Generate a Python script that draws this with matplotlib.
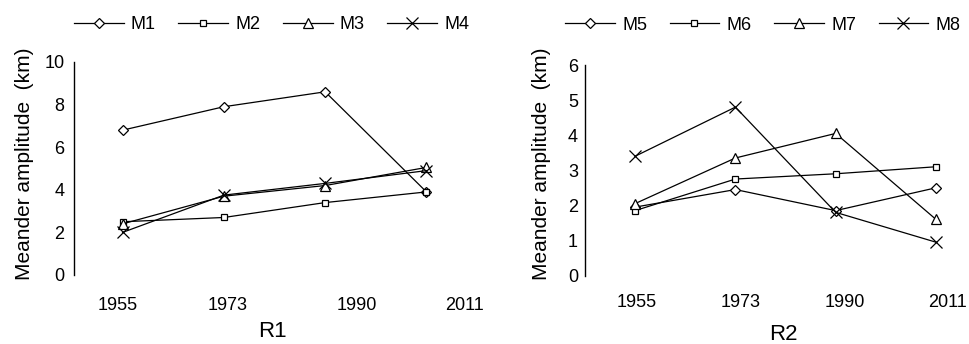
import matplotlib
matplotlib.use("Agg")
import matplotlib.pyplot as plt

plt.rcParams['font.family'] = ['Liberation Sans', 'DejaVu Sans']

# dati
years = ['1955', '1973', '1990', '2011']
points = [0, 1, 2, 3]

r1_names = ['M1', 'M2', 'M3', 'M4']
m1 = [6.8, 7.9, 8.6, 3.9]
m2 = [2.5, 2.7, 3.4, 3.9]
m3 = [2.4, 3.7, 4.2, 5.05]
m4 = [2.0, 3.75, 4.3, 4.9]

r2_names = ['M5', 'M6', 'M7', 'M8']
m5 = [1.95, 2.45, 1.85, 2.5]
m6 = [1.85, 2.75, 2.9, 3.1]
m7 = [2.05, 3.35, 4.05, 1.6]
m8 = [3.4, 4.8, 1.8, 0.95]

# stile marker: rombo, quadrato, triangolo, croce
markers = [('D', 5.2), ('s', 5.0), ('^', 7.5), ('x', 8.5)]

fig = plt.figure(figsize=(9.7, 3.44), dpi=100)
ax1 = fig.add_axes([0.0763, 0.2006, 0.4051, 0.6192])
ax2 = fig.add_axes([0.6031, 0.1991, 0.3928, 0.6119])


def draw_panel(ax, series, names, ymax, xlim, tick_pos, xlabel, xlab_xy, ylab_xy, leg_xy, xpad, ypad):
    for vals, name, (mk, ms) in zip(series, names, markers):
        ax.plot(points, vals, color='black', lw=0.9, marker=mk, ms=ms,
                mfc='white', mec='black', mew=0.9, label=name)
    ax.set_xlim(*xlim)
    ax.set_ylim(0, ymax)
    ax.set_yticks(range(0, ymax + 1, 2 if ymax > 6 else 1))
    ax.set_xticks(tick_pos)
    ax.set_xticklabels(years)
    for s in ['top', 'right', 'bottom']:
        ax.spines[s].set_visible(False)
    ax.spines['left'].set_linewidth(1.0)
    ax.tick_params(axis='x', length=0, pad=xpad, labelsize=13)
    ax.tick_params(axis='y', length=0, pad=ypad, labelsize=13)
    ax.set_xlabel(xlabel, fontsize=16, va='center')
    ax.xaxis.set_label_coords(*xlab_xy)
    ax.set_ylabel('Meander amplitude  (km)', fontsize=15, va='center')
    ax.yaxis.set_label_coords(*ylab_xy)
    ax.legend(loc='center left', bbox_to_anchor=leg_xy, ncol=4, frameon=False,
              fontsize=13, handlelength=2.75, handletextpad=0.4, columnspacing=1.25,
              borderpad=0, borderaxespad=0)


draw_panel(ax1, [m1, m2, m3, m4], r1_names, 10, (-0.48, 3.4),
           [-0.05, 1.04, 2.31, 3.38], 'R1', (0.506, -0.263), (-0.125, 0.52),
           (0.0, 1.174), 15.5, 7)
draw_panel(ax2, [m5, m6, m7, m8], r2_names, 6, (-0.5, 3.3),
           [0.02, 1.05, 2.09, 3.12], 'R2', (0.52, -0.28), (-0.113, 0.53),
           (-0.052, 1.19), 13, 5)

fig.savefig('out.png', dpi=100)
